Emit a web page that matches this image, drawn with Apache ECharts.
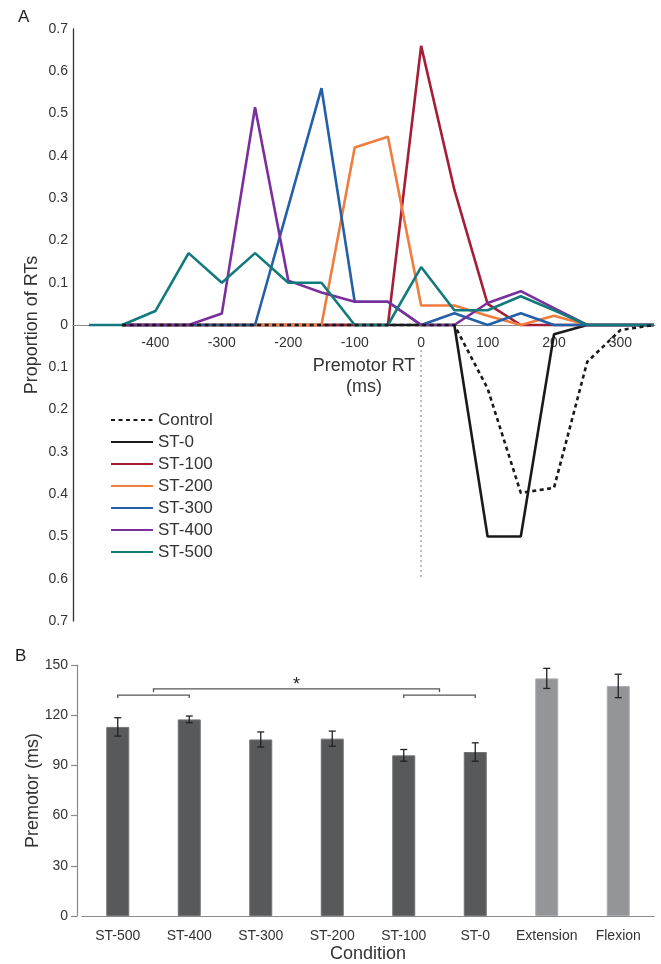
<!DOCTYPE html>
<html>
<head>
<meta charset="utf-8">
<script src="https://cdn.jsdelivr.net/npm/echarts@6/dist/echarts.min.js"></script>
<style>
  html, body { margin: 0; padding: 0; background: #fff; }
  #app { width: 661px; height: 964px; }
</style>
</head>
<body>
<div id="app"></div>
<script>
// Panel A: distribution of premotor RTs (50 ms bins)
const rtBins = [-500, -450, -400, -350, -300, -250, -200, -150, -100, -50, 0, 50, 100, 150, 200, 250, 300, 350];
const st500 = [0, 0, 0.033, 0.17, 0.10, 0.17, 0.10, 0.10, 0, 0, 0.137, 0.035, 0.035, 0.068, 0.035, 0, 0, 0];
const st400 = [null, 0, 0, 0, 0.027, 0.515, 0.105, 0.077, 0.055, 0.055, 0, 0, 0.052, 0.08, 0.04, 0, 0, 0];
const st300 = [null, 0, 0, 0, 0, 0, 0.28, 0.56, 0.055, 0.055, 0, 0.028, 0, 0.028, 0, 0, 0, 0];
const st200 = [null, 0, 0, 0, 0, 0, 0, 0, 0.42, 0.445, 0.046, 0.046, 0.022, 0, 0.022, 0, 0, 0];
const st100 = [null, 0, 0, 0, 0, 0, 0, 0, 0, 0, 0.66, 0.32, 0.05, 0, 0, 0, 0, 0];
// these two are drawn below the zero line
const st0 = [null, 0, 0, 0, 0, 0, 0, 0, 0, 0, 0, 0, 0.5, 0.5, 0.022, 0, 0, 0];
const control = [null, 0, 0, 0, 0, 0, 0, 0, 0, 0, 0, 0, 0.15, 0.397, 0.385, 0.087, 0.012, 0];
const rtTicks = [-400, -300, -200, -100, 0, 100, 200, 300];

// Panel B: mean premotor time per condition
const conditions = ['ST-500', 'ST-400', 'ST-300', 'ST-200', 'ST-100', 'ST-0', 'Extension', 'Flexion'];
const premotor = [113, 117.5, 105.5, 106, 96, 98, 142, 137.5];
const premotorErr = [5.5, 2, 4.5, 4.5, 3.5, 5.5, 6, 7];
const controlConds = ['Extension', 'Flexion'];
// significance brackets: [left a, left b, right a, right b, level]
const sigBrackets = [
  [0, 0, 1, 1, 132],
  [4, 4, 5, 5, 132],
  [0, 1, 4, 5, 135.7]
];
const starred = [2];

const FONT = 'Liberation Sans, Arial, sans-serif';
const myChart = echarts.init(document.getElementById('app'));

const gridA = { left: 73, right: 6, top: 29, bottom: 343 };
// x axis of panel A sits on y = 0, i.e. the middle of the symmetric y range
const zeroOffset = -(964 - gridA.top - gridA.bottom) / 2;

const pairs = (vals, sign = 1) => rtBins.map((x, i) => [x, vals[i] == null ? null : sign * vals[i]]);

const lineSeries = (name, vals, color, sign, extra = {}) => Object.assign({
  name,
  type: 'line',
  xAxisIndex: 0,
  yAxisIndex: 0,
  symbol: 'none',
  data: pairs(vals, sign),
  lineStyle: { color, width: 2.6 },
  itemStyle: { color },
  connectNulls: false,
}, extra);

const option = {
  animation: false,
  backgroundColor: '#fff',
  textStyle: { fontFamily: FONT, color: '#333' },
  title: [
    { text: 'A', left: 13, top: 4, textStyle: { fontSize: 17, fontWeight: 'normal', color: '#222', fontFamily: FONT } },
    { text: 'B', left: 10, top: 643, textStyle: { fontSize: 17, fontWeight: 'normal', color: '#222', fontFamily: FONT } },
  ],
  legend: {
    data: ['Control', 'ST-0', 'ST-100', 'ST-200', 'ST-300', 'ST-400', 'ST-500'],
    orient: 'vertical',
    left: 105,
    top: 404,
    itemWidth: 42,
    itemHeight: 14,
    itemGap: 0,
    itemStyle: { opacity: 0 },
    textStyle: { fontSize: 17, color: '#333', lineHeight: 22, fontFamily: FONT },
  },
  grid: [
    gridA,
    { left: 82, right: 7, top: 665, bottom: 47.5 },
  ],
  xAxis: [
    {
      type: 'value',
      gridIndex: 0,
      min: -524,
      max: 352,
      position: 'bottom',
      offset: zeroOffset,
      name: 'Premotor RT\n(ms)',
      nameLocation: 'middle',
      nameGap: 31,
      nameMoveOverlap: false,
      nameTextStyle: { fontSize: 18, color: '#333', lineHeight: 21 },
      axisLine: { onZero: false, lineStyle: { color: '#8a8a8a', width: 1 } },
      axisTick: { show: false },
      splitLine: { show: false },
      axisLabel: { customValues: rtTicks, fontSize: 14, color: '#333', margin: 11 },
    },
    {
      type: 'category',
      gridIndex: 1,
      data: conditions,
      name: 'Condition',
      nameLocation: 'middle',
      nameGap: 29,
      nameMoveOverlap: false,
      nameTextStyle: { fontSize: 18, color: '#333' },
      axisLine: { lineStyle: { color: '#8a8a8a', width: 1.2 } },
      axisTick: { show: false },
      axisLabel: { fontSize: 14, color: '#333', margin: 13, interval: 0 },
    },
  ],
  yAxis: [
    {
      type: 'value',
      gridIndex: 0,
      min: -0.7,
      max: 0.7,
      interval: 0.1,
      name: 'Proportion of RTs',
      nameLocation: 'middle',
      nameRotate: 90,
      nameGap: 32,
      nameMoveOverlap: false,
      nameTextStyle: { fontSize: 18, color: '#333' },
      axisLine: { show: true, onZero: false, lineStyle: { color: '#333', width: 1.3 } },
      axisTick: { show: false },
      splitLine: { show: false },
      axisLabel: {
        fontSize: 14,
        color: '#333',
        margin: 5,
        formatter: v => (Math.abs(v) < 1e-9 ? '0' : Math.abs(v).toFixed(1)),
      },
    },
    {
      type: 'value',
      gridIndex: 1,
      min: 0,
      max: 150,
      interval: 30,
      offset: 5,
      name: 'Premotor (ms)',
      nameLocation: 'middle',
      nameRotate: 90,
      nameGap: 35,
      nameMoveOverlap: false,
      nameTextStyle: { fontSize: 18, color: '#333' },
      axisLine: { show: true, lineStyle: { color: '#8a8a8a', width: 1.2 } },
      axisTick: { show: true, length: 6, lineStyle: { color: '#8a8a8a', width: 1.2 } },
      splitLine: { show: false },
      axisLabel: { fontSize: 14, color: '#333', margin: 9 },
    },
  ],
  series: [
    lineSeries('ST-0', st0, '#1a1a1a', -1, {
      markLine: {
        silent: true,
        symbol: 'none',
        label: { show: false },
        lineStyle: { color: '#8a8a8a', type: [1.5, 3.5], width: 1.5 },
        data: [[{ coord: [0, -0.06] }, { coord: [0, -0.6] }]],
      },
    }),
    lineSeries('ST-100', st100, '#a51d36', 1),
    lineSeries('ST-200', st200, '#f07c3e', 1),
    lineSeries('ST-300', st300, '#2360a8', 1),
    lineSeries('ST-400', st400, '#7a2f9c', 1),
    lineSeries('ST-500', st500, '#127a7c', 1),
    lineSeries('Control', control, '#1a1a1a', -1, {
      lineStyle: { color: '#1a1a1a', width: 2.6, type: [4, 3.5] },
    }),
    {
      name: 'Premotor',
      type: 'bar',
      xAxisIndex: 1,
      yAxisIndex: 1,
      barWidth: 23,
      data: premotor.map((v, i) => ({
        value: v,
        itemStyle: controlConds.includes(conditions[i])
          ? { color: '#949599', borderColor: '#a9abae', borderWidth: 1 }
          : { color: '#58595b', borderColor: '#717274', borderWidth: 1 },
      })),
    },
    {
      name: 'SE',
      type: 'custom',
      xAxisIndex: 1,
      yAxisIndex: 1,
      z: 5,
      encode: { x: 0, y: [1, 2] },
      data: premotor.map((v, i) => [i, v - premotorErr[i], v + premotorErr[i]]),
      renderItem: (params, api) => {
        const i = api.value(0);
        const lo = api.coord([i, api.value(1)]);
        const hi = api.coord([i, api.value(2)]);
        const w = 3.5;
        const style = { stroke: '#222', lineWidth: 1.3 };
        return {
          type: 'group',
          children: [
            { type: 'line', shape: { x1: lo[0], y1: lo[1], x2: hi[0], y2: hi[1] }, style },
            { type: 'line', shape: { x1: lo[0] - w, y1: lo[1], x2: lo[0] + w, y2: lo[1] }, style },
            { type: 'line', shape: { x1: hi[0] - w, y1: hi[1], x2: hi[0] + w, y2: hi[1] }, style },
          ],
        };
      },
    },
    {
      name: 'Sig',
      type: 'custom',
      xAxisIndex: 1,
      yAxisIndex: 1,
      z: 5,
      encode: { x: [0, 2], y: 4 },
      data: sigBrackets,
      renderItem: (params, api) => {
        const lv = api.value(4);
        const xa = (api.coord([api.value(0), lv])[0] + api.coord([api.value(1), lv])[0]) / 2;
        const xb = (api.coord([api.value(2), lv])[0] + api.coord([api.value(3), lv])[0]) / 2;
        const y = api.coord([0, lv])[1];
        const children = [{
          type: 'polyline',
          shape: { points: [[xa, y + 3], [xa, y], [xb, y], [xb, y + 3]] },
          style: { stroke: '#555', lineWidth: 1.3, fill: null },
        }];
        if (starred.includes(params.dataIndex)) {
          children.push({
            type: 'text',
            style: {
              text: '*', x: (xa + xb) / 2, y: y - 4,
              align: 'center', verticalAlign: 'middle',
              fontSize: 18, fontFamily: FONT, fill: '#222',
            },
          });
        }
        return { type: 'group', children };
      },
    },
  ],
};

myChart.setOption(option);
</script>
</body>
</html>
